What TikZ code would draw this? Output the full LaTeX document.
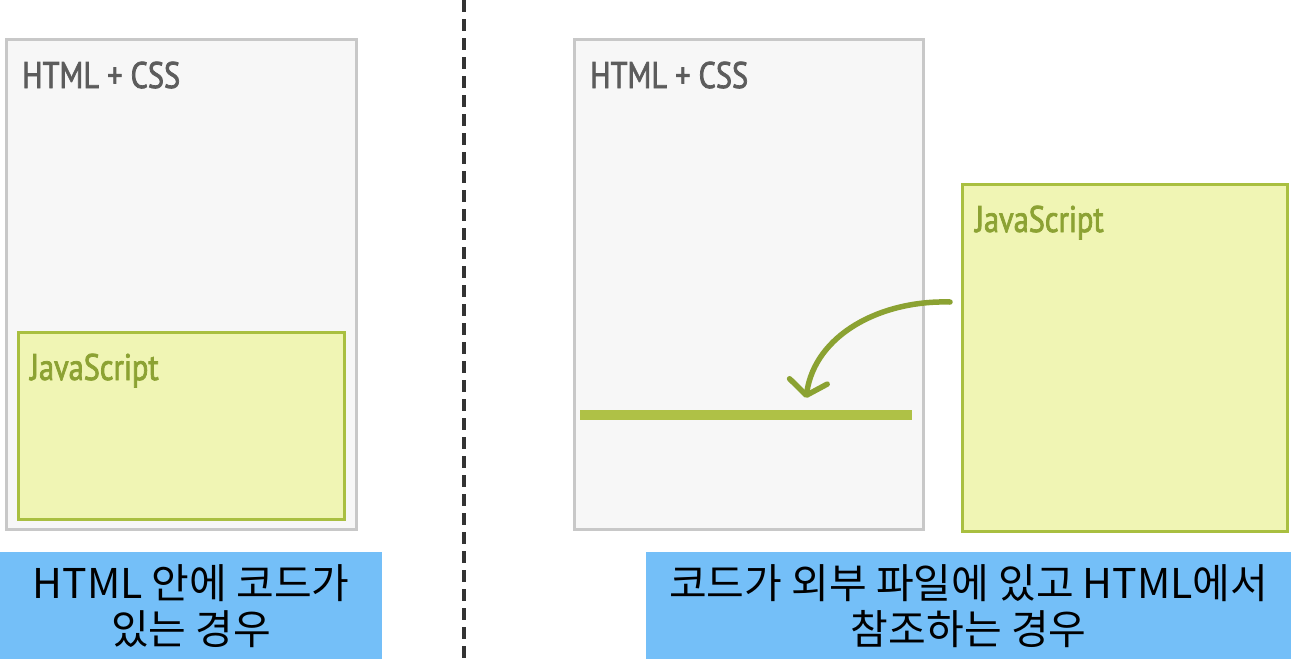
\documentclass[tikz,border=0pt]{standalone}
\usepackage{fontspec}
\usetikzlibrary{arrows.meta}
\newfontfamily\kr{Noto Sans CJK KR}
\newfontfamily\labfont[FakeStretch=0.82,FakeBold=2]{PT Sans}
\definecolor{boxgray}{HTML}{C8C8C8}
\definecolor{boxfill}{HTML}{F7F7F7}
\definecolor{jsborder}{HTML}{A9BF40}
\definecolor{jsfill}{HTML}{F0F5B4}
\definecolor{jstext}{HTML}{8CA233}
\definecolor{arrowgreen}{HTML}{8BA232}
\definecolor{bargreen}{HTML}{AFC146}
\definecolor{labelblue}{HTML}{74BFF8}
\definecolor{graytext}{HTML}{5C5C5C}
\tikzset{
  htmlbox/.style={draw=boxgray, fill=boxfill, line width=3pt, anchor=north west, inner sep=0pt},
  jsbox/.style={draw=jsborder, fill=jsfill, line width=3pt, anchor=north west, inner sep=0pt},
  htmltitle/.style={anchor=base west, inner sep=0pt, text=graytext, font=\labfont\fontsize{37}{40}\selectfont},
  jstitle/.style={anchor=base west, inner sep=0pt, text=jstext, font=\labfont\fontsize{37}{40}\selectfont},
  caption/.style={fill=labelblue, anchor=north west, inner sep=0pt, align=center, font=\kr\fontsize{41}{46}\selectfont},
  divider/.style={draw=black!80, line width=4pt, dash pattern=on 12pt off 7pt},
  refarrow/.style={draw=arrowgreen, line width=5.5pt, line cap=round, -{Straight Barb[length=14pt,width=38pt,round]}}
}
\begin{document}
\begin{tikzpicture}[x=1pt,y=-1pt]
\useasboundingbox (0,0) rectangle (1292,664);
% divider
\coordinate (dtop) at (464,0);
\coordinate (dbot) at (464,664);
\draw[divider] (dtop) -- (dbot);
% left
\node[htmlbox, minimum width=350pt, minimum height=490pt] (lhtml) at (5,38) {};
\node[htmltitle] (lhtmlt) at (22,88) {HTML + CSS};
\node[jsbox, minimum width=326pt, minimum height=187pt] (ljs) at (17,331) {};
\node[jstitle] (ljst) at (30,380) {JavaScript};
\node[caption, minimum width=382pt, minimum height=107pt] (lcap) at (0,552) {HTML 안에 코드가\\있는 경우};
% right
\node[htmlbox, minimum width=349pt, minimum height=490pt] (rhtml) at (573,38) {};
\node[htmltitle] (rhtmlt) at (590,88) {HTML + CSS};
\node[fill=bargreen, anchor=north west, inner sep=0pt, minimum width=332pt, minimum height=10pt] (bar) at (580,410) {};
\node[jsbox, minimum width=325pt, minimum height=347pt] (rjs) at (961,183) {};
\node[jstitle] (rjst) at (975,232) {JavaScript};
\node[caption, minimum width=645pt, minimum height=107pt] (rcap) at (646,552) {코드가 외부 파일에 있고 HTML에서\\참조하는 경우};
% arrow
\coordinate (astart) at (950,302);
\coordinate (aend) at (806,398);
\draw[refarrow] (astart) .. controls (880,300) and (815,335) .. (aend);
\end{tikzpicture}
\end{document}
